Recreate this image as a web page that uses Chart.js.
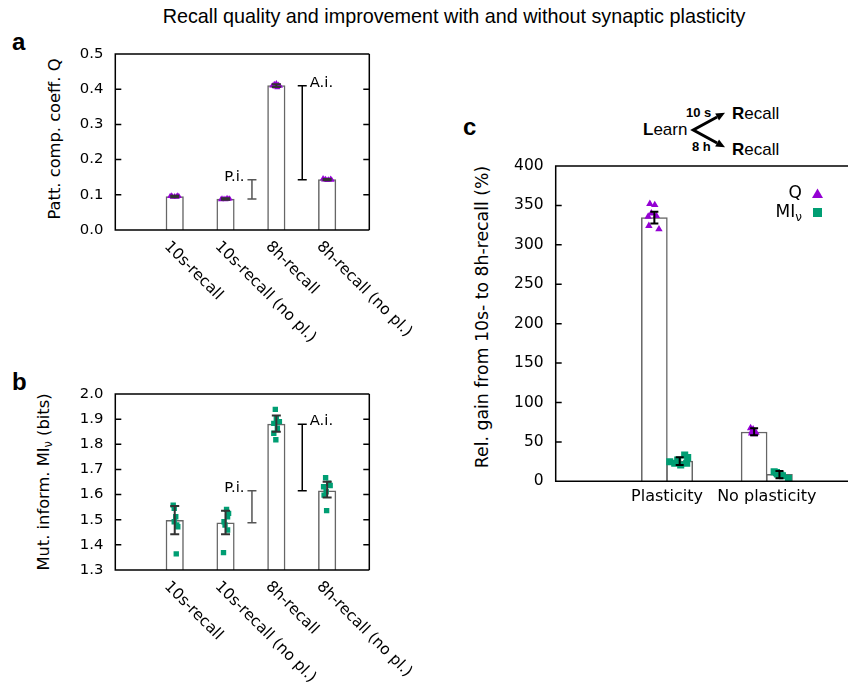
<!DOCTYPE html>
<html>
<head>
<meta charset="utf-8">
<script src="https://cdn.jsdelivr.net/npm/chart.js@4.4.1/dist/chart.umd.min.js"></script>
<style>
  body { margin: 0; width: 848px; height: 689px; overflow: hidden; background: #fff; position: relative;
         font-family: "DejaVu Sans", sans-serif; color: #000; }
  canvas, .abs { position: absolute; }
  .ytitle { position: absolute; white-space: nowrap; transform: translate(-50%, -50%) rotate(-90deg); line-height: 1; }
  .ytitle sub { font-size: 0.7em; vertical-align: -0.25em; line-height: 0; }
  .letter { position: absolute; font: bold 24px "Liberation Sans", sans-serif; line-height: 1; }
  .ins { position: absolute; font-family: "Liberation Sans", sans-serif; line-height: 1; white-space: nowrap; }
</style>
</head>
<body>
<div class="abs" style="left:0;top:6.5px;width:908px;text-align:center;font:19.8px 'Liberation Sans',sans-serif;line-height:1">Recall quality and improvement with and without synaptic plasticity</div>

<div class="letter" style="left:12px;top:30.4px">a</div>
<div class="letter" style="left:12px;top:370.4px">b</div>
<div class="letter" style="left:463px;top:114.7px">c</div>

<div class="ytitle" style="left:54.5px;top:139px;font-size:16.3px">Patt. comp. coeff. Q</div>
<div class="ytitle" style="left:44px;top:482px;font-size:16.3px">Mut. inform. MI<sub>ν</sub> (bits)</div>
<div class="ytitle" style="left:483px;top:317px;font-size:17.3px">Rel. gain from 10s- to 8h-recall (%)</div>

<!-- kleines Schema oben in c -->
<div class="ins" style="left:643px;top:121px;font-size:17px"><b>L</b>earn</div>
<div class="ins" style="left:732px;top:104.8px;font-size:17px"><b>R</b>ecall</div>
<div class="ins" style="left:732px;top:140.8px;font-size:17px"><b>R</b>ecall</div>
<div class="ins" style="left:686px;top:106.3px;font-size:13px;font-weight:bold">10 s</div>
<div class="ins" style="left:692px;top:140.3px;font-size:13px;font-weight:bold">8 h</div>
<svg class="abs" style="left:680px;top:100px" width="60" height="60">
  <path d="M37.1 17.0 L13.3 30 L37.1 43.0" fill="none" stroke="#000" stroke-width="3" stroke-linejoin="miter"/>
  <polygon points="45,12.7 39.0,20.5 35.2,13.5" fill="#000"/>
  <polygon points="45,47.3 35.2,46.5 39.0,39.5" fill="#000"/>
</svg>

<canvas id="chartA" width="430" height="320" style="left:0;top:40px"></canvas>
<canvas id="chartB" width="430" height="309" style="left:0;top:380px"></canvas>
<canvas id="chartC" width="388" height="370" style="left:460px;top:150px"></canvas>

<script>
const FONT = "'DejaVu Sans', sans-serif";
const PURPLE = '#9400d3';
const GREEN = '#009e73';
Chart.defaults.font.family = FONT;
Chart.defaults.color = '#000';

// --- a + b: Kategorien
const recallLabels = ['10s-recall', '10s-recall (no pl.)', '8h-recall', '8h-recall (no pl.)'];
const recallX = [1, 2, 3, 4];
const bracketX = [2.52, 3.51];
const bracketLabels = ['P.i.', 'A.i.'];

// --- a: Q
const qTicks = [0, 0.1, 0.2, 0.3, 0.4, 0.5];
const qMean = [0.095, 0.088, 0.410, 0.143];
const qErr = [0.002, 0.002, 0.004, 0.002];
const qSamples = [
  [0.097, 0.097, 0.096, 0.096, 0.095, 0.094, 0.094],
  [0.090, 0.089, 0.089, 0.088, 0.088, 0.087, 0.087],
  [0.416, 0.414, 0.412, 0.410, 0.409, 0.407, 0.405],
  [0.146, 0.145, 0.144, 0.143, 0.143, 0.142, 0.141]
];
const qJitter = [
  [-0.06, 0.05, -0.09, 0.08, 0.0, -0.04, 0.04],
  [0.03, -0.07, 0.08, -0.03, 0.05, -0.09, 0.0],
  [0.0, -0.04, 0.04, -0.08, 0.07, -0.02, 0.02],
  [-0.08, 0.07, -0.03, 0.03, -0.06, 0.09, 0.0]
];

// --- b: MI
const miTicks = [1.3, 1.4, 1.5, 1.6, 1.7, 1.8, 1.9, 2.0];
const miMean = [1.498, 1.488, 1.880, 1.615];
const miLow = [1.442, 1.442, 1.850, 1.588];
const miHigh = [1.555, 1.536, 1.914, 1.651];
const miSamples = [
  [1.558, 1.545, 1.512, 1.492, 1.479, 1.472, 1.364],
  [1.541, 1.525, 1.512, 1.492, 1.479, 1.459, 1.369],
  [1.939, 1.903, 1.890, 1.883, 1.864, 1.844, 1.818],
  [1.667, 1.645, 1.636, 1.631, 1.611, 1.598, 1.536]
];
const miJitter = [
  [-0.03, -0.01, 0.02, -0.01, 0.04, 0.06, 0.03],
  [0.02, 0.06, 0.04, -0.03, -0.01, 0.04, -0.04],
  [-0.02, 0.0, 0.06, -0.05, 0.02, -0.05, -0.01],
  [-0.03, 0.03, 0.06, -0.07, -0.02, -0.06, -0.01]
];

// --- c: relativer Gewinn
const groupLabels = ['Plasticity', 'No plasticity'];
const groupX = [1, 2];
const gainTicks = [0, 50, 100, 150, 200, 250, 300, 350, 400];
const gainQX = [0.873, 1.873];
const gainMIX = [1.127, 2.127];
const gainQ = [334.5, 62.6];
const gainQLow = [327, 58.4];
const gainQHigh = [342, 67.3];
const gainMI = [25.8, 8.9];
const gainMILow = [20.7, 4.0];
const gainMIHigh = [30.5, 13.1];
const gainQSamples = [
  [352, 350.6, 340, 335.8, 336.7, 324, 319.8],
  [67.5, 66, 64.2, 63, 61.7, 60.9, 60]
];
const gainQJitter = [
  [-0.045, 0.004, -0.03, -0.062, 0.02, -0.055, 0.046],
  [-0.035, -0.01, -0.008, -0.02, 0.018, -0.025, 0.0]
];
const gainMISamples = [
  [33.4, 30.0, 27.0, 24.9, 22.8, 22.8, 20.7],
  [12.2, 11.0, 9.3, 8.0, 8.5, 7.0, 3.8]
];
const gainMIJitter = [
  [0.05, 0.08, -0.02, -0.10, -0.05, 0.07, 0.01],
  [-0.053, -0.03, -0.02, 0.013, 0.0, 0.03, 0.09]
];

// Punktwolke aus Werten + Versatz bauen
function cloud(xs, samples, jitter) {
  return samples.flatMap((s, i) => s.map((v, j) => ({ x: xs[i] + jitter[i][j], y: v })));
}

// feste Achsengröße, ohne Extra-Rand für Tick-Labels
function fixSize(prop, size) {
  return s => {
    s[prop] = size;
    s.paddingTop = 0; s.paddingBottom = 0; s.paddingLeft = 0; s.paddingRight = 0;
  };
}

function errorBars(chart, xs, lows, highs, color, width, cap) {
  const { ctx, scales: { x, y } } = chart;
  ctx.save();
  ctx.strokeStyle = color;
  ctx.lineWidth = width;
  ctx.beginPath();
  xs.forEach((xv, i) => {
    const px = x.getPixelForValue(xv);
    const y1 = y.getPixelForValue(lows[i]);
    const y2 = y.getPixelForValue(highs[i]);
    ctx.moveTo(px, y1); ctx.lineTo(px, y2);
    ctx.moveTo(px - cap, y1); ctx.lineTo(px + cap, y1);
    ctx.moveTo(px - cap, y2); ctx.lineTo(px + cap, y2);
  });
  ctx.stroke();
  ctx.restore();
}

// Rahmen wie bei gnuplot, Ticks nach innen
function frame(chart, ticks, withRight) {
  const { ctx, chartArea: a, scales: { y } } = chart;
  ctx.save();
  ctx.strokeStyle = '#000';
  ctx.lineWidth = 1.5;
  ctx.beginPath();
  ctx.moveTo(a.right + (withRight ? 0 : 5), a.top); ctx.lineTo(a.left, a.top);
  ctx.lineTo(a.left, a.bottom); ctx.lineTo(a.right + (withRight ? 0 : 5), a.bottom);
  if (withRight) { ctx.moveTo(a.right, a.top); ctx.lineTo(a.right, a.bottom); }
  ticks.forEach(v => {
    const py = y.getPixelForValue(v);
    ctx.moveTo(a.left, py); ctx.lineTo(a.left + 6, py);
    if (withRight) { ctx.moveTo(a.right, py); ctx.lineTo(a.right - 6, py); }
  });
  ctx.stroke();
  ctx.restore();
}

function recallChart(id, cfg) {
  const ticks = cfg.ticks;
  return new Chart(document.getElementById(id), {
    type: 'bar',
    data: {
      datasets: [
        {
          type: 'bar',
          data: recallX.map((x, i) => ({ x, y: cfg.mean[i] })),
          backgroundColor: '#fff', borderColor: '#666', borderWidth: 1.5,
          barThickness: 17.5, grouped: false, order: 3
        },
        {
          type: 'scatter',
          data: cloud(recallX, cfg.samples, cfg.jitter),
          pointStyle: cfg.pointStyle, pointRadius: cfg.radius,
          backgroundColor: cfg.color, borderWidth: 0, order: 2
        }
      ]
    },
    options: {
      responsive: false, animation: false, events: [],
      layout: { padding: { top: 14, right: 60.7, left: 0, bottom: 0 } },
      plugins: { legend: { display: false }, tooltip: { enabled: false } },
      scales: {
        x: {
          type: 'linear', min: -0.17, max: 4.83, offset: false,
          grid: { display: false, drawTicks: false }, border: { display: false },
          ticks: { display: false },
          afterFit: fixSize('height', cfg.bottomSpace)
        },
        y: {
          type: 'linear', min: ticks[0], max: ticks[ticks.length - 1],
          afterBuildTicks: s => { s.ticks = ticks.map(v => ({ value: v })); },
          ticks: { padding: 12, font: { size: 14.8 }, callback: v => v.toFixed(1) },
          grid: { display: false, drawTicks: false }, border: { display: false },
          afterFit: fixSize('width', 115.3)
        }
      }
    },
    plugins: [{
      id: 'recallDecor',
      afterDatasetsDraw(chart) {
        errorBars(chart, recallX, cfg.low, cfg.high, '#333', 2, 4.5);
      },
      afterDraw(chart) {
        const { ctx, chartArea: a, scales: { x, y } } = chart;
        frame(chart, ticks, true);
        // P.i. und A.i. Klammern
        const spans = [[cfg.mean[1], cfg.mean[3]], [cfg.mean[3], cfg.mean[2]]];
        ctx.save();
        ctx.font = '14.8px ' + FONT;
        ctx.textBaseline = 'middle';
        bracketX.forEach((bx, i) => {
          const px = x.getPixelForValue(bx);
          const y1 = y.getPixelForValue(spans[i][0]);
          const y2 = y.getPixelForValue(spans[i][1]);
          ctx.strokeStyle = i === 0 ? '#555' : '#000';
          ctx.fillStyle = '#000';
          ctx.lineWidth = 1.5;
          ctx.beginPath();
          ctx.moveTo(px, y1); ctx.lineTo(px, y2);
          ctx.moveTo(px - 4.5, y1); ctx.lineTo(px + 4.5, y1);
          ctx.moveTo(px - 4.5, y2); ctx.lineTo(px + 4.5, y2);
          ctx.stroke();
          if (i === 0) { ctx.textAlign = 'right'; ctx.fillText(bracketLabels[i], px - 7.5, y2 - 3); }
          else { ctx.textAlign = 'left'; ctx.fillText(bracketLabels[i], px + 7.5, y2 - 3); }
        });
        // schräge Beschriftung
        ctx.font = '15.5px ' + FONT;
        ctx.textAlign = 'left';
        ctx.textBaseline = 'alphabetic';
        recallLabels.forEach((t, i) => {
          const px = x.getPixelForValue(recallX[i]);
          ctx.save();
          ctx.translate(px - 11, a.bottom + 17);
          ctx.rotate(Math.PI / 4);
          ctx.fillText(t, 0, 0);
          ctx.restore();
        });
        ctx.restore();
      }
    }]
  });
}

recallChart('chartA', {
  ticks: qTicks, mean: qMean,
  low: qMean.map((m, i) => m - qErr[i]), high: qMean.map((m, i) => m + qErr[i]),
  samples: qSamples, jitter: qJitter,
  pointStyle: 'triangle', radius: 3.5, color: PURPLE, bottomSpace: 130
});

recallChart('chartB', {
  ticks: miTicks, mean: miMean, low: miLow, high: miHigh,
  samples: miSamples, jitter: miJitter,
  pointStyle: 'rect', radius: 3.8, color: GREEN, bottomSpace: 119
});

// --- c
new Chart(document.getElementById('chartC'), {
  type: 'bar',
  data: {
    datasets: [
      { type: 'bar', data: gainQX.map((x, i) => ({ x, y: gainQ[i] })),
        backgroundColor: '#fff', borderColor: '#666', borderWidth: 1.5, barThickness: 26, grouped: false, order: 4 },
      { type: 'bar', data: gainMIX.map((x, i) => ({ x, y: gainMI[i] })),
        backgroundColor: '#fff', borderColor: '#666', borderWidth: 1.5, barThickness: 26, grouped: false, order: 3 },
      { type: 'scatter', data: cloud(gainQX, gainQSamples, gainQJitter),
        pointStyle: 'triangle', pointRadius: 4.3, backgroundColor: PURPLE, borderWidth: 0, order: 2 },
      { type: 'scatter', data: cloud(gainMIX, gainMISamples, gainMIJitter),
        pointStyle: 'rect', pointRadius: 5, backgroundColor: GREEN, borderWidth: 0, order: 1 }
    ]
  },
  options: {
    responsive: false, animation: false, events: [],
    layout: { padding: { top: 16, right: 0, left: 0, bottom: 0 } },
    plugins: { legend: { display: false }, tooltip: { enabled: false } },
    scales: {
      x: {
        type: 'linear', min: -0.116, max: 2.764, offset: false,
        afterBuildTicks: s => { s.ticks = groupX.map(v => ({ value: v })); },
        ticks: { padding: 6, font: { size: 16 }, maxRotation: 0, autoSkip: false,
                 callback: v => groupLabels[groupX.indexOf(v)] },
        grid: { display: false, drawTicks: false }, border: { display: false },
        afterFit: fixSize('height', 38.7)
      },
      y: {
        type: 'linear', min: 0, max: 400,
        afterBuildTicks: s => { s.ticks = gainTicks.map(v => ({ value: v })); },
        ticks: { padding: 12, font: { size: 15.5 } },
        grid: { display: false, drawTicks: false }, border: { display: false },
        afterFit: fixSize('width', 95.7)
      }
    }
  },
  plugins: [{
    id: 'gainDecor',
    afterDatasetsDraw(chart) {
      errorBars(chart, gainQX, gainQLow, gainQHigh, '#000', 2, 4);
      errorBars(chart, gainMIX, gainMILow, gainMIHigh, '#000', 2, 4);
    },
    afterDraw(chart) {
      const { ctx, chartArea: a } = chart;
      frame(chart, gainTicks, false);
      // Legende: Text links, Marker rechts
      const tx = a.right - 41, mx = a.right - 25.5;
      const r1 = a.top + 28, r2 = a.top + 46.5;
      ctx.save();
      ctx.fillStyle = '#000';
      ctx.textBaseline = 'middle';
      ctx.textAlign = 'right';
      ctx.font = '17px ' + FONT;
      ctx.fillText('Q', tx, r1);
      ctx.font = '12px ' + FONT;
      const nuW = ctx.measureText('ν').width;
      ctx.fillText('ν', tx, r2 + 5);
      ctx.font = '17px ' + FONT;
      ctx.fillText('MI', tx - nuW, r2);
      ctx.fillStyle = PURPLE;
      ctx.beginPath();
      ctx.moveTo(mx, r1 - 5.5); ctx.lineTo(mx + 5.5, r1 + 4); ctx.lineTo(mx - 5.5, r1 + 4);
      ctx.closePath(); ctx.fill();
      ctx.fillStyle = GREEN;
      ctx.fillRect(mx - 4.5, r2 - 4.5, 9, 9);
      ctx.restore();
    }
  }]
});
</script>
</body>
</html>
